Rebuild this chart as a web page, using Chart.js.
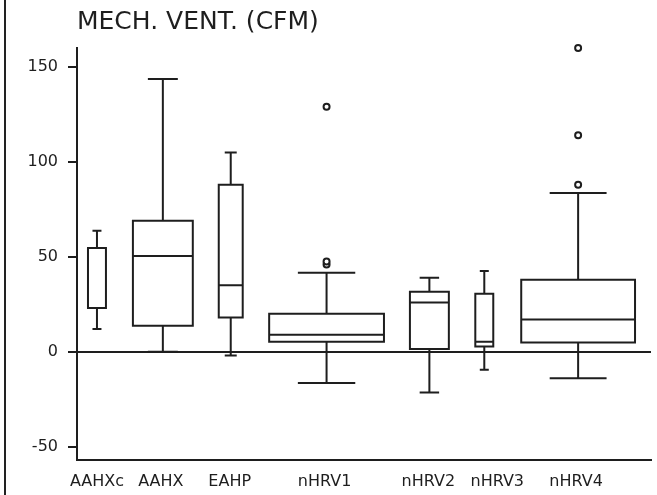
<!DOCTYPE html>
<html lang="en">
<head>
    <meta charset="UTF-8">
    <title>MECH. VENT. (CFM)</title>
    <script src="https://cdn.jsdelivr.net/npm/chart.js"></script>
    <style>
        body { margin: 0; background: #fff; }
        #wrap { position: relative; width: 657px; height: 495px; }
        #edge { position: absolute; left: 4px; top: 0; width: 2px; height: 495px; background: #222; }
    </style>
</head>
<body>
    <div id="wrap">
        <canvas id="boxChart" width="657" height="495"></canvas>
        <div id="edge"></div>
    </div>

    <script>
        // groups and five-number summaries
        const groups     = ['AAHXc', 'AAHX', 'EAHP', 'nHRV1', 'nHRV2', 'nHRV3', 'nHRV4'];
        const whiskerLow = [12, 0, -2, -16.5, -21.5, -9.5, -14];
        const quart1     = [23, 13.7, 18, 5.3, 1.5, 2.8, 4.9];
        const medians    = [54.7, 50.5, 35, 9, 26, 5.3, 17];
        const quart3     = [54.7, 69, 88, 20, 31.6, 30.5, 38];
        const whiskerHigh= [63.7, 143.7, 105, 41.6, 39, 42.6, 83.6];
        const outliers   = [[], [], [], [46, 47.5, 129], [], [], [88, 114, 160]];
        const yTicks     = [-50, 0, 50, 100, 150];

        // layout: where each group sits on the x scale, box widths, label spots
        const groupPos   = [4, 17.2, 30.8, 50, 70.6, 81.6, 100.4];
        const boxWidth   = [3.6, 12, 4.8, 23, 7.8, 3.6, 22.8];
        const labelPos   = [4, 16.8, 30.6, 49.6, 70.4, 84.2, 100];

        const ink = '#1e1e1e';
        const font = 'DejaVu Sans';

        const outlierPts = [];
        outliers.forEach((vals, i) => vals.forEach(v => outlierPts.push({x: groupPos[i], y: v})));

        // draws boxes + whiskers with the chart scales
        const boxPlot = {
            id: 'boxPlot',
            afterDatasetsDraw(chart) {
                const ctx = chart.ctx;
                const xs = chart.scales.x, ys = chart.scales.y;
                ctx.save();
                ctx.strokeStyle = ink;
                ctx.lineWidth = 2;
                groups.forEach((g, i) => {
                    const cx = xs.getPixelForValue(groupPos[i]);
                    const half = xs.getPixelForValue(groupPos[i] + boxWidth[i] / 2) - cx;
                    const cap = half / 2;
                    const yq1 = ys.getPixelForValue(quart1[i]);
                    const yq3 = ys.getPixelForValue(quart3[i]);
                    const ymd = ys.getPixelForValue(medians[i]);
                    const ylo = ys.getPixelForValue(whiskerLow[i]);
                    const yhi = ys.getPixelForValue(whiskerHigh[i]);
                    ctx.beginPath();
                    ctx.rect(cx - half, yq3, half * 2, yq1 - yq3);
                    ctx.moveTo(cx - half, ymd); ctx.lineTo(cx + half, ymd);
                    ctx.moveTo(cx, yq3); ctx.lineTo(cx, yhi);
                    ctx.moveTo(cx - cap, yhi); ctx.lineTo(cx + cap, yhi);
                    ctx.moveTo(cx, yq1); ctx.lineTo(cx, ylo);
                    ctx.moveTo(cx - cap, ylo); ctx.lineTo(cx + cap, ylo);
                    ctx.stroke();
                });
                ctx.restore();
            }
        };

        new Chart(document.getElementById('boxChart'), {
            type: 'scatter',
            data: {
                datasets: [{
                    data: outlierPts,
                    clip: false,
                    pointRadius: 3,
                    pointBorderWidth: 2,
                    pointBackgroundColor: '#fff',
                    pointBorderColor: ink
                }]
            },
            options: {
                responsive: false,
                animation: false,
                events: [],
                layout: { padding: { left: 0, right: 5, top: 0, bottom: 0 } },
                plugins: {
                    legend: { display: false },
                    tooltip: { enabled: false },
                    title: {
                        display: true,
                        text: 'MECH. VENT. (CFM)',
                        align: 'start',
                        fullSize: false,
                        color: ink,
                        font: { family: font, size: 25, weight: 'normal' },
                        padding: { top: 7, bottom: 11 }
                    }
                },
                scales: {
                    x: {
                        type: 'linear',
                        min: 0,
                        max: 115,
                        grid: { display: false, drawTicks: false },
                        border: { display: true, color: ink, width: 2 },
                        afterBuildTicks: s => { s.ticks = labelPos.map(v => ({ value: v })); },
                        afterFit: s => { s.height = 35; },
                        ticks: {
                            autoSkip: false,
                            maxRotation: 0,
                            padding: 12,
                            color: ink,
                            font: { family: font, size: 16 },
                            callback: (v, i) => groups[i]
                        }
                    },
                    y: {
                        min: -57,
                        max: 160,
                        afterBuildTicks: s => { s.ticks = yTicks.map(v => ({ value: v })); },
                        afterFit: s => { s.width = 77; },
                        grid: {
                            color: c => c.tick && c.tick.value === 0 ? ink : 'rgba(0,0,0,0)',
                            lineWidth: 2,
                            tickColor: ink,
                            tickWidth: 2,
                            tickLength: 9
                        },
                        border: { display: true, color: ink, width: 2 },
                        ticks: {
                            padding: 10,
                            color: ink,
                            font: { family: font, size: 16 }
                        }
                    }
                }
            },
            plugins: [boxPlot]
        });
    </script>
</body>
</html>
